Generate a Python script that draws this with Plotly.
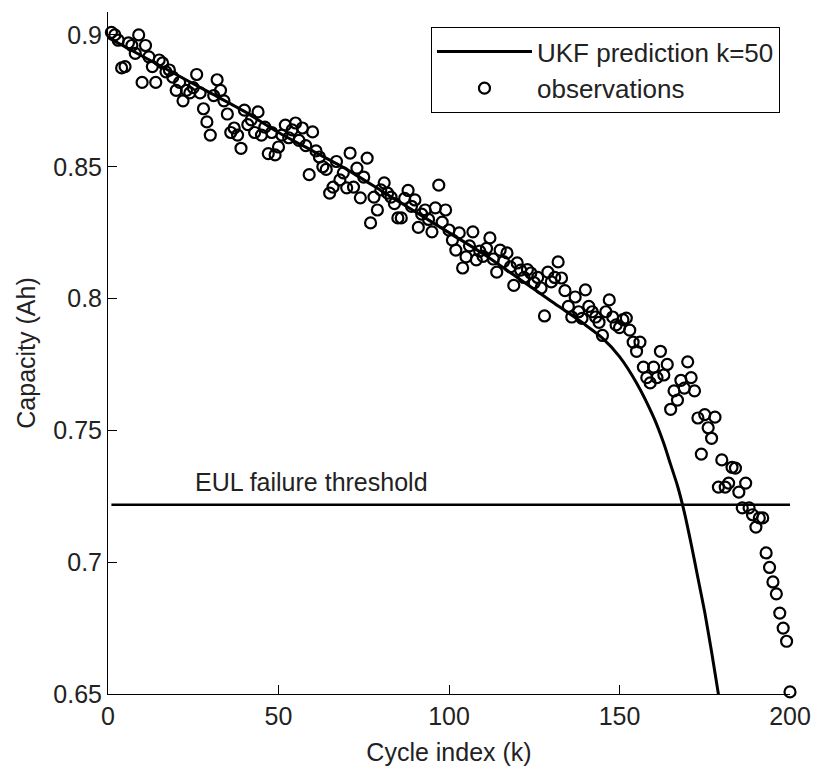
import plotly.graph_objects as go

# Measured capacity for cycles 1..200
cycles = list(range(1, 201))
capacity_obs = [
    0.901, 0.900, 0.898, 0.8875, 0.888, 0.897, 0.896, 0.893, 0.900, 0.882,
    0.896, 0.8917, 0.888, 0.882, 0.8905, 0.8894, 0.886, 0.8867, 0.884, 0.879,
    0.882, 0.875, 0.879, 0.878, 0.880, 0.885, 0.878, 0.872, 0.867, 0.862,
    0.877, 0.883, 0.879, 0.875, 0.870, 0.863, 0.8647, 0.862, 0.857, 0.8715,
    0.866, 0.8678, 0.863, 0.8708, 0.862, 0.865, 0.855, 0.863, 0.8545, 0.8575,
    0.862, 0.8658, 0.861, 0.864, 0.8666, 0.860, 0.8647, 0.858, 0.847, 0.8632,
    0.856, 0.8537, 0.850, 0.849, 0.840, 0.8423, 0.852, 0.845, 0.8477, 0.842,
    0.8552, 0.8423, 0.8495, 0.8382, 0.8461, 0.8533, 0.8287, 0.8385, 0.8336, 0.8412,
    0.8439, 0.840, 0.8385, 0.836, 0.8306, 0.8306, 0.838, 0.841, 0.835, 0.8374,
    0.827, 0.832, 0.8336, 0.830, 0.8253, 0.8344, 0.843, 0.829, 0.8336, 0.826,
    0.8222, 0.8184, 0.8249, 0.8116, 0.8158, 0.820, 0.8253, 0.8147, 0.818, 0.816,
    0.819, 0.823, 0.815, 0.810, 0.8184, 0.814, 0.8173, 0.812, 0.805, 0.8135,
    0.8108, 0.808, 0.811, 0.8097, 0.806, 0.808, 0.804, 0.7934, 0.810, 0.8063,
    0.808, 0.8139, 0.8078, 0.803, 0.797, 0.793, 0.8006, 0.795, 0.7925, 0.8033,
    0.797, 0.795, 0.793, 0.791, 0.786, 0.795, 0.7995, 0.793, 0.790, 0.789,
    0.792, 0.7926, 0.788, 0.7835, 0.780, 0.7835, 0.774, 0.770, 0.768, 0.774,
    0.770, 0.780, 0.771, 0.775, 0.758, 0.765, 0.7615, 0.769, 0.766, 0.776,
    0.770, 0.765, 0.7547, 0.741, 0.756, 0.751, 0.747, 0.755, 0.7285, 0.7388,
    0.7285, 0.730, 0.736, 0.7357, 0.7266, 0.7206, 0.730, 0.7206, 0.718, 0.7133,
    0.7168, 0.7168, 0.7035, 0.698, 0.6925, 0.688, 0.6807, 0.675, 0.670, 0.6508,
]

# UKF prediction started at k=50
pred_cycles = [0, 10, 20, 30, 40, 50, 60, 70, 80, 90, 100, 110, 120, 130, 140,
               145, 150, 155, 160, 163, 165, 167, 169, 171, 173, 175, 177, 179, 181]
pred_capacity = [0.899, 0.892, 0.885, 0.878, 0.871, 0.863, 0.856, 0.849, 0.841,
                 0.833, 0.825, 0.817, 0.808, 0.799, 0.790, 0.785, 0.778, 0.768,
                 0.755, 0.745, 0.737, 0.729, 0.719, 0.707, 0.694, 0.681, 0.666,
                 0.650, 0.634]

# End-of-useful-life failure threshold
threshold_cycles = [1, 200]
threshold_value = 0.7218

FONT = "Liberation Sans, Arial, Helvetica, sans-serif"
INK = "#222222"

fig = go.Figure()

fig.add_trace(go.Scatter(
    x=pred_cycles, y=pred_capacity, mode="lines",
    line=dict(color="black", width=3, shape="spline", smoothing=0.6),
    name="UKF prediction k=50",
))

fig.add_trace(go.Scatter(
    x=cycles, y=capacity_obs, mode="markers",
    marker=dict(symbol="circle-open", size=11, color="black",
                line=dict(width=2.2, color="black")),
    cliponaxis=False,
    name="observations",
))

fig.add_trace(go.Scatter(
    x=threshold_cycles, y=[threshold_value] * len(threshold_cycles),
    mode="lines", line=dict(color="black", width=2.5),
    showlegend=False, hoverinfo="skip",
))

fig.add_annotation(
    x=25, y=0.7305, xref="x", yref="y", text="EUL failure threshold",
    showarrow=False, xanchor="left", yanchor="middle",
    font=dict(family=FONT, size=25, color=INK),
)

axis_common = dict(
    showline=True, linecolor="black", linewidth=1, mirror=False,
    showgrid=False, zeroline=False, automargin=False,
    ticks="inside", ticklen=9, tickwidth=1, tickcolor="black",
    tickfont=dict(family=FONT, size=25, color=INK),
)

fig.update_xaxes(
    range=[0, 200], tickvals=[0, 50, 100, 150, 200],
    title=dict(text="Cycle index (k)", font=dict(family=FONT, size=25, color=INK),
               standoff=14),
    **axis_common,
)
fig.update_yaxes(
    range=[0.65, 0.9087], tickvals=[0.65, 0.7, 0.75, 0.8, 0.85, 0.9],
    ticktext=["0.65", "0.7", "0.75", "0.8", "0.85", "0.9"],
    title=dict(text="Capacity (Ah)", font=dict(family=FONT, size=25, color=INK),
               standoff=10),
    **axis_common,
)

fig.update_layout(
    width=817, height=772,
    margin=dict(l=108, r=27, t=12, b=78),
    paper_bgcolor="white", plot_bgcolor="white",
    showlegend=True,
    legend=dict(
        x=0.9853, y=0.978, xanchor="right", yanchor="top",
        bgcolor="white", bordercolor="black", borderwidth=1,
        font=dict(family=FONT, size=26, color=INK),
        itemwidth=95, tracegroupgap=0,
    ),
)

fig.write_html("out.html")
